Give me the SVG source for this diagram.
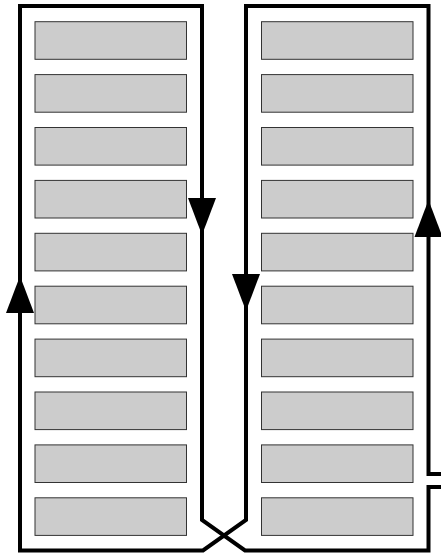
<svg xmlns="http://www.w3.org/2000/svg" width="441" height="556" viewBox="0 0 441 556">
<style>
.slot{fill:#cccccc;stroke:#333333;stroke-width:1}
.wire{fill:none;stroke:#000000;stroke-width:4;stroke-linejoin:miter;stroke-linecap:butt}
.head{fill:#000000;stroke:none}
</style>
<rect width="441" height="556" fill="#ffffff"/>
<g id="nodes">
<g id="L1"><rect class="slot" x="35" y="21.7" width="151.5" height="37.6"/></g>
<g id="L2"><rect class="slot" x="35" y="74.6" width="151.5" height="37.6"/></g>
<g id="L3"><rect class="slot" x="35" y="127.5" width="151.5" height="37.6"/></g>
<g id="L4"><rect class="slot" x="35" y="180.4" width="151.5" height="37.6"/></g>
<g id="L5"><rect class="slot" x="35" y="233.3" width="151.5" height="37.6"/></g>
<g id="L6"><rect class="slot" x="35" y="286.2" width="151.5" height="37.6"/></g>
<g id="L7"><rect class="slot" x="35" y="339.1" width="151.5" height="37.6"/></g>
<g id="L8"><rect class="slot" x="35" y="392" width="151.5" height="37.6"/></g>
<g id="L9"><rect class="slot" x="35" y="444.9" width="151.5" height="37.6"/></g>
<g id="L10"><rect class="slot" x="35" y="497.8" width="151.5" height="37.6"/></g>
<g id="R1"><rect class="slot" x="261.5" y="21.7" width="151.5" height="37.6"/></g>
<g id="R2"><rect class="slot" x="261.5" y="74.6" width="151.5" height="37.6"/></g>
<g id="R3"><rect class="slot" x="261.5" y="127.5" width="151.5" height="37.6"/></g>
<g id="R4"><rect class="slot" x="261.5" y="180.4" width="151.5" height="37.6"/></g>
<g id="R5"><rect class="slot" x="261.5" y="233.3" width="151.5" height="37.6"/></g>
<g id="R6"><rect class="slot" x="261.5" y="286.2" width="151.5" height="37.6"/></g>
<g id="R7"><rect class="slot" x="261.5" y="339.1" width="151.5" height="37.6"/></g>
<g id="R8"><rect class="slot" x="261.5" y="392" width="151.5" height="37.6"/></g>
<g id="R9"><rect class="slot" x="261.5" y="444.9" width="151.5" height="37.6"/></g>
<g id="R10"><rect class="slot" x="261.5" y="497.8" width="151.5" height="37.6"/></g>
</g>
<g id="connectors">
<path class="wire" d="M 441 487 H 428.5 V 550.5 H 245 L 202 520 V 6 H 20 V 550.5 H 203 L 246 520 V 6 H 428.5 V 474 H 441"/>
<polygon class="head" points="188,198 216,198 202,235"/>
<polygon class="head" points="232,274 260,274 246,311"/>
<polygon class="head" points="6,313 34,313 20,276"/>
<polygon class="head" points="414.5,237 442.5,237 428.5,200"/>
</g>
</svg>
